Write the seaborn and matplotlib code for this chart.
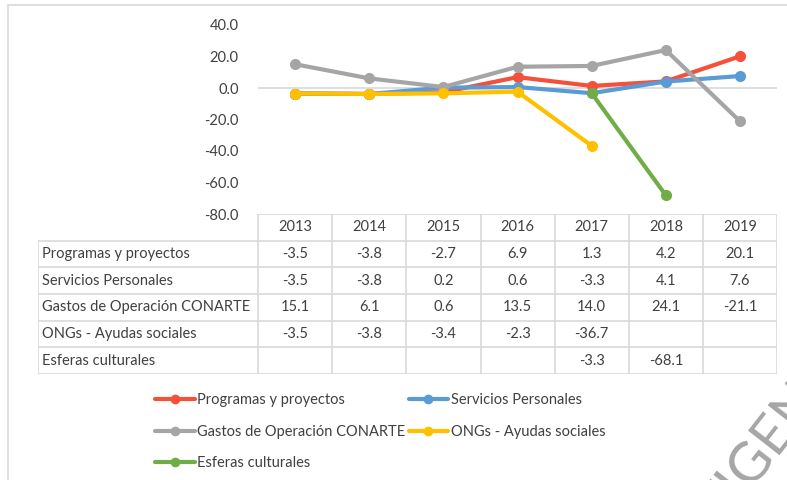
import numpy as np
import pandas as pd
import seaborn as sns
import matplotlib.pyplot as plt
from matplotlib.lines import Line2D
from matplotlib.patches import Rectangle

# datos
years = [2013, 2014, 2015, 2016, 2017, 2018, 2019]
series = ["Programas y proyectos", "Servicios Personales",
          "Gastos de Operación CONARTE", "ONGs - Ayudas sociales",
          "Esferas culturales"]
programas = [-3.5, -3.8, -2.7, 6.9, 1.3, 4.2, 20.1]
servicios = [-3.5, -3.8, 0.2, 0.6, -3.3, 4.1, 7.6]
gastos = [15.1, 6.1, 0.6, 13.5, 14.0, 24.1, -21.1]
ongs = [-3.5, -3.8, -3.4, -2.3, -36.7, np.nan, np.nan]
esferas = [np.nan, np.nan, np.nan, np.nan, -3.3, -68.1, np.nan]
colors = ["#F4503A", "#5B9BD5", "#A5A5A5", "#FFC000", "#70AD47"]
yticks = [40, 20, 0, -20, -40, -60, -80]

values = [programas, servicios, gastos, ongs, esferas]
df = pd.DataFrame({
    "year": years * len(series),
    "serie": [s for s in series for _ in years],
    "value": [v for vals in values for v in vals],
})

sns.set_style("white")
plt.rcParams["font.family"] = ["Lato", "DejaVu Sans"]

W, H = 787, 480
fig = plt.figure(figsize=(W / 100, H / 100), dpi=100)

# borde del area del grafico
fig.patches.append(Rectangle((8 / W, -0.1), 1.1, 1 - 5 / H + 0.1,
                             transform=fig.transFigure, fill=False,
                             edgecolor="#D9D9D9", linewidth=1.2))

ax = fig.add_axes([258 / W, 1 - 214 / H, (777 - 258) / W, (214 - 25) / H])
pal = dict(zip(series, colors))
for s in series:
    sns.lineplot(data=df[df.serie == s].dropna(), x="year", y="value",
                 color=pal[s], marker="o", markersize=8, markeredgewidth=0,
                 linewidth=3, sort=False, estimator=None, ax=ax, legend=False)

ax.set_xlim(years[0] - 0.5, years[-1] + 0.5)
ax.set_ylim(-80, 40)
ax.set_yticks(yticks)
ax.set_yticklabels([f"{t:.1f}" for t in yticks], fontsize=10.5, color="#404040")
ax.set_xticks([])
ax.set_xlabel("")
ax.set_ylabel("")
ax.tick_params(axis="y", length=0, pad=14)
for sp in ax.spines.values():
    sp.set_visible(False)
ax.axhline(0, color="#D9D9D9", linewidth=1.2, zorder=0)

# tabla de datos
lab_w = (258 - 38) / 74
tax = fig.add_axes([38 / W, 1 - 374 / H, (777 - 38) / W, (374 - 214) / H])
x0 = years[0] - 0.5 - lab_w
tax.set_xlim(x0, years[-1] + 0.5)
tax.set_ylim(len(series) + 1, 0)
tax.axis("off")
lc = "#D9D9D9"
tax.plot([years[0] - 0.5, years[-1] + 0.5], [0, 0], color=lc, lw=1.2)
for r in range(1, len(series) + 2):
    tax.plot([x0, years[-1] + 0.5], [r, r], color=lc, lw=1.2)
tax.plot([x0, x0], [1, len(series) + 1], color=lc, lw=1.2)
for i in range(len(years) + 1):
    xb = years[0] - 0.5 + i
    tax.plot([xb, xb], [0, len(series) + 1], color=lc, lw=1.2)
for i, y in enumerate(years):
    tax.text(y, 0.5, str(y), ha="center", va="center", fontsize=10.5, color="#404040")
for r, (s, vals) in enumerate(zip(series, values)):
    tax.text(x0 + 0.06, r + 1.5, s, ha="left", va="center", fontsize=10.5, color="#404040")
    for y, v in zip(years, vals):
        if not np.isnan(v):
            tax.text(y, r + 1.5, f"{v:.1f}", ha="center", va="center",
                     fontsize=10.5, color="#404040")

# leyenda
handles = [Line2D([], [], color=c, lw=3, marker="o", markersize=7,
                  markeredgewidth=0) for c in colors]
order = [0, 2, 4, 1, 3]
fig.legend([handles[i] for i in order], [series[i] for i in order], ncol=2,
           loc="upper left", bbox_to_anchor=(142 / W, 1 - 380 / H),
           frameon=False, fontsize=10.5, handlelength=2.7, handletextpad=0.2,
           columnspacing=0.2, labelspacing=1.2, labelcolor="#404040")

# marca de agua
fig.text(708 / W, -42 / H, "VIGENTE", rotation=52, rotation_mode="anchor",
         fontsize=40, color="#A6A6A6", ha="left", va="center")

fig.savefig("out.png", dpi=100)
